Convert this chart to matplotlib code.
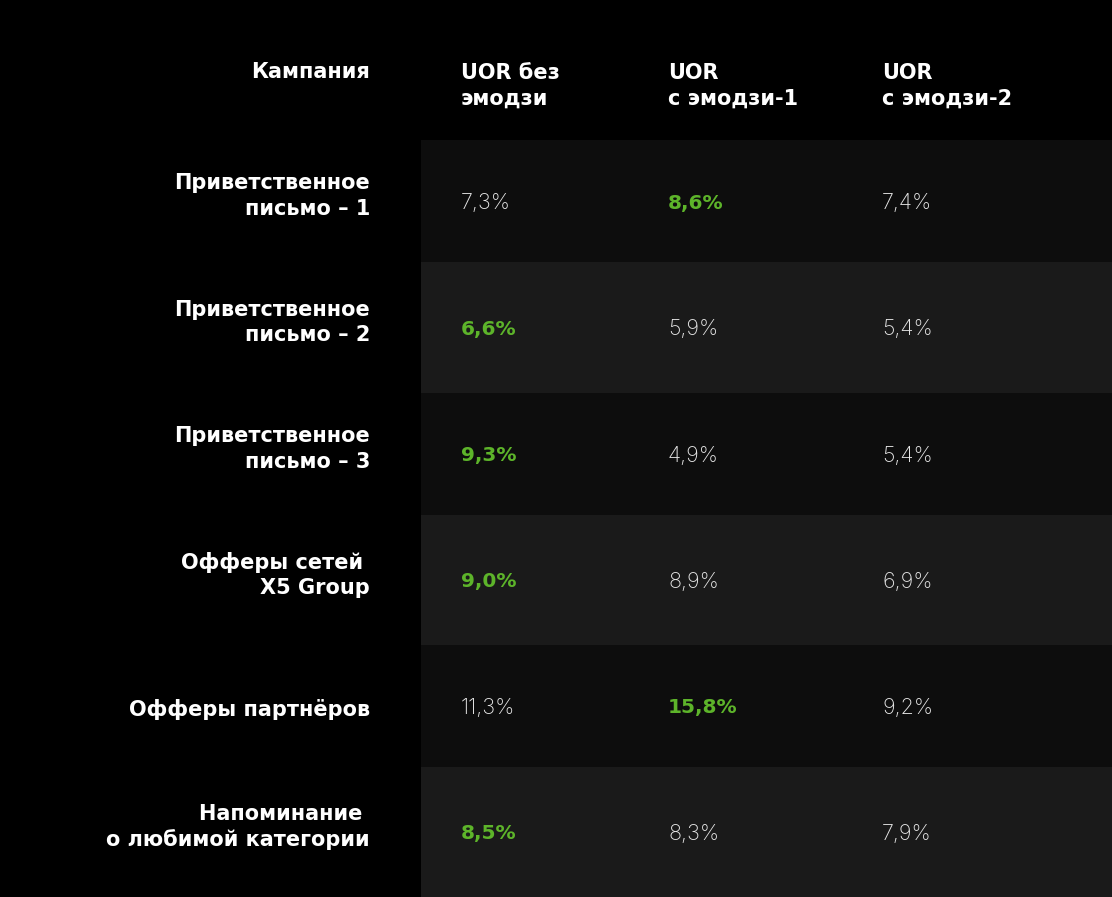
import matplotlib.pyplot as plt
from matplotlib.patches import Rectangle

campaigns = ["Приветственное\nписьмо – 1", "Приветственное\nписьмо – 2", "Приветственное\nписьмо – 3",
             "Офферы сетей \nX5 Group", "Офферы партнёров", "Напоминание \nо любимой категории"]
headers = ["Кампания", "UOR без\nэмодзи", "UOR\nс эмодзи-1", "UOR\nс эмодзи-2"]
no_emoji = ["7,3%", "6,6%", "9,3%", "9,0%", "11,3%", "8,5%"]
emoji_1 = ["8,6%", "5,9%", "4,9%", "8,9%", "15,8%", "8,3%"]
emoji_2 = ["7,4%", "5,4%", "5,4%", "6,9%", "9,2%", "7,9%"]
best = [1, 0, 0, 0, 1, 0]  # index of highlighted column per row

row_edges = [140, 262, 393, 515, 645, 767, 897]
row_colors = ["#0d0d0d", "#1a1a1a"]
col_x = [461, 668, 882]
green = "#5db42a"
label_font = "DejaVu Sans"

fig = plt.figure(figsize=(11.12, 8.97), dpi=100, facecolor="black")
ax = fig.add_axes([0, 0, 1, 1])
ax.set_xlim(0, 1112)
ax.set_ylim(897, 0)
ax.axis("off")

ax.text(370, 72, headers[0], ha="right", va="center", color="white",
        fontsize=15, fontweight="bold", family=label_font)
for x, h in zip(col_x, headers[1:]):
    ax.text(x, 86, h, ha="left", va="center", color="white", fontsize=15,
            fontweight="bold", family=label_font, linespacing=1.35)

for i, name in enumerate(campaigns):
    top, bot = row_edges[i], row_edges[i + 1]
    ax.add_patch(Rectangle((421, top), 1112 - 421, bot - top, color=row_colors[i % 2], lw=0))
    cy = (top + bot) / 2 - 5
    ly = cy if "\n" in name else cy + 9
    ax.text(370, ly, name, ha="right", va="center", color="white", fontsize=15,
            fontweight="bold", family=label_font, linespacing=1.35)
    for j, vals in enumerate([no_emoji, emoji_1, emoji_2]):
        hi = best[i] == j
        ax.text(col_x[j], cy + 7, vals[i], ha="left", va="center",
                color=green if hi else "#e6e6e6", fontsize=15.5 if not hi else 14.5,
                fontweight="bold" if hi else "light",
                family=label_font if hi else "Inter")

fig.savefig("out.png", dpi=100, facecolor="black")
